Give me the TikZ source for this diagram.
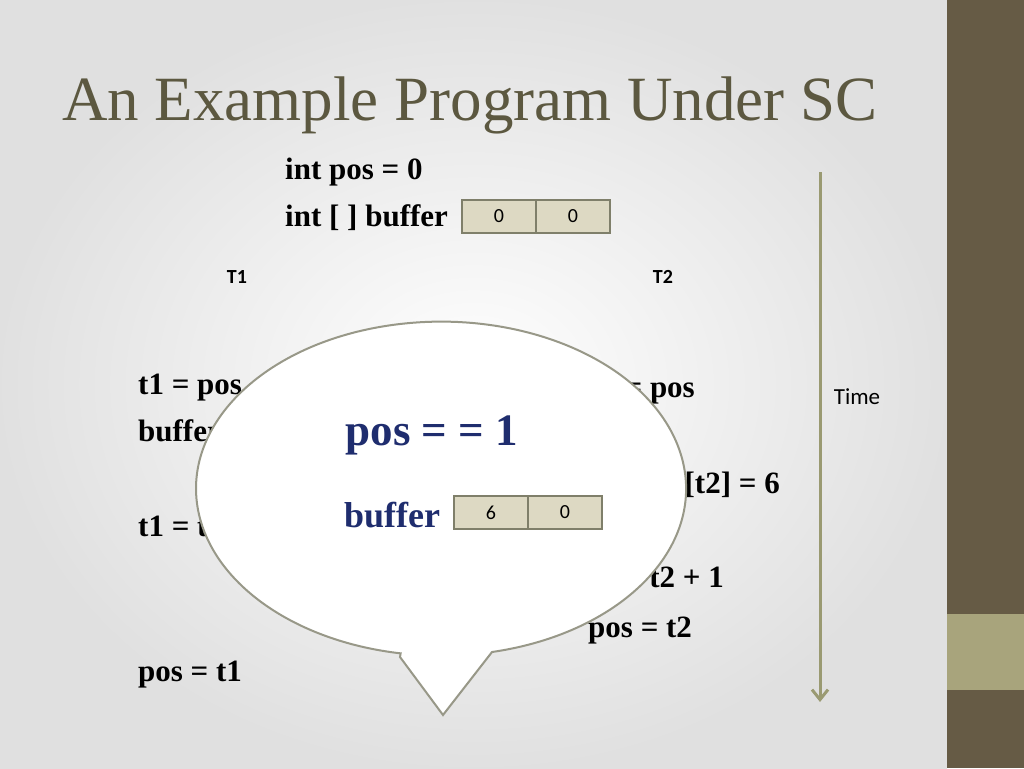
\documentclass[tikz,border=0pt]{standalone}
\usepackage{fontspec}
\setmainfont{Liberation Serif}
\newfontfamily\carl{Carlito}
\usetikzlibrary{shapes.geometric,arrows.meta}
\definecolor{bar}{HTML}{665B45}
\definecolor{barl}{HTML}{A8A47C}
\definecolor{ttl}{HTML}{5C5840}
\definecolor{cellf}{HTML}{DDD9C3}
\definecolor{celld}{HTML}{7F7F6A}
\definecolor{arr}{HTML}{9A9A72}
\definecolor{blu}{HTML}{1F2D6E}
\tikzset{code/.style={font=\bfseries\fontsize{31}{34}\selectfont,inner sep=0pt},
 cell/.style={draw=celld,line width=2pt,fill=cellf,minimum width=74pt,minimum height=33pt,inner sep=0pt,font=\carl\fontsize{20}{22}\selectfont,anchor=north west},
 lab/.style={font=\carl\bfseries\fontsize{20}{22}\selectfont}}
\begin{document}
\begin{tikzpicture}[x=1pt,y=-1pt]
\useasboundingbox (0,0) rectangle (1024,768);
\shade[inner color=white,outer color=black!12] (0,0) rectangle (947,768);
\fill[bar] (947,0) rectangle (1024,768);
\fill[barl] (947,614) rectangle (1024,690);
\node[anchor=base west,inner sep=0pt,text=ttl,font=\fontsize{63}{68}\selectfont] (title) at (62,120) {An Example Program Under SC};
\node[code,anchor=base west] (p) at (285,179) {int pos = 0};
\node[code,anchor=base west] (b) at (285,226) {int [ ] buffer};
\node[cell] (c1) at (461,199) {0};
\node[cell] (c2) at (535,199) {0};
\node[lab] (t1) at (237,277) {T1};
\node[lab] (t2) at (663,277) {T2};
\node[font=\carl\fontsize{23}{25}\selectfont] (time) at (857,397) {Time};
\coordinate (ts) at (820,172); \coordinate (te) at (820,702);
\draw[arr,line width=3pt,-{Straight Barb[length=10pt,width=16pt]}] (ts) -- (te);
\node[code,anchor=base west] (a1) at (138,394) {t1 = pos};
\node[code,anchor=base west] (a2) at (138,441) {buffer[t1] = 5};
\node[code,anchor=base west] (a3) at (138,536) {t1 = t1 + 1};
\node[code,anchor=base west] (a4) at (138,681) {pos = t1};
\node[code,anchor=base east] (b1) at (695,397) {t2 = pos};
\node[code,anchor=base east] (b2) at (780,493) {buffer[t2] = 6};
\node[code,anchor=base east] (b3) at (724,587) {t2 = t2 + 1};
\node[code,anchor=base west] (b4) at (588,637) {pos = t2};
\draw[celld!80,line width=2pt,fill=white]
  (400,657) -- (443,715) -- (492,652)
  arc[start angle=78,end angle=-260.5,x radius=245,y radius=167] -- cycle;
\node[font=\bfseries\fontsize{45}{48}\selectfont,text=blu] (pq) at (432,435) {pos = = 1};
\node[font=\bfseries\fontsize{36}{40}\selectfont,text=blu,anchor=base] (bb) at (392,527) {buffer};
\node[cell] (d1) at (453,495) {6};
\node[cell] (d2) at (527,495) {0};
\end{tikzpicture}
\end{document}
